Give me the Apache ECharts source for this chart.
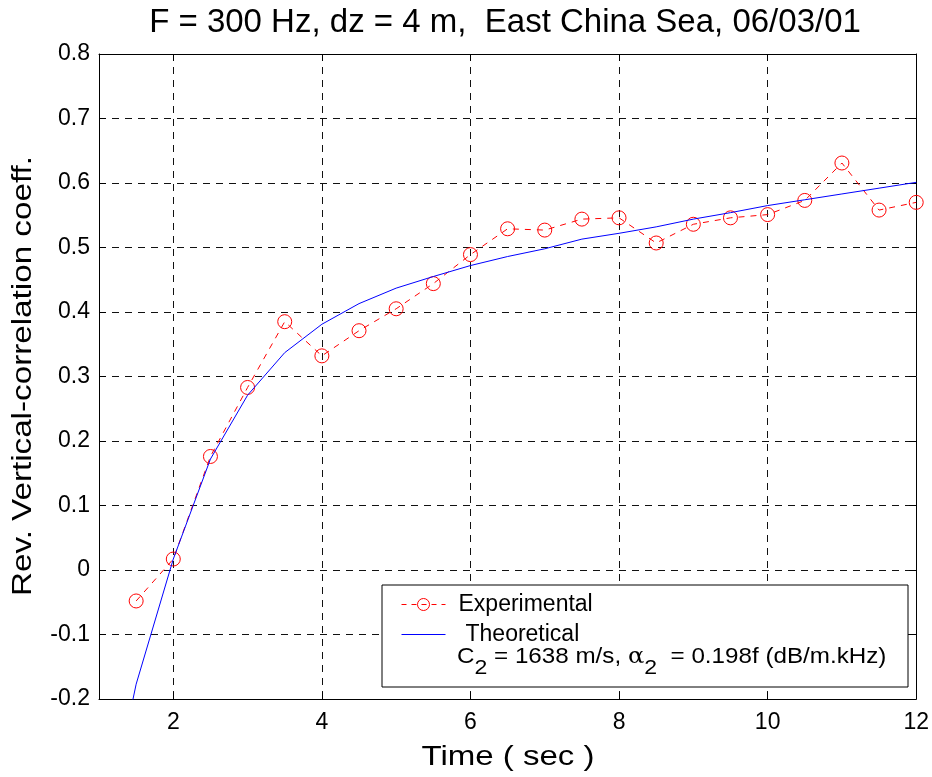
<!DOCTYPE html>
<html>
<head>
<meta charset="utf-8">
<script src="https://cdn.jsdelivr.net/npm/echarts@6/dist/echarts.min.js"></script>
<style>html,body{margin:0;padding:0;background:#fff}#c{width:932px;height:777px}</style>
</head>
<body>
<div id="c"></div>
<script>
const timeExp = [1.5,2,2.5,3,3.5,4,4.5,5,5.5,6,6.5,7,7.5,8,8.5,9,9.5,10,10.5,11,11.5,12];
const experimental = [-0.048,0.017,0.176,0.283,0.385,0.332,0.371,0.405,0.444,0.489,0.529,0.527,0.544,0.546,0.507,0.536,0.546,0.551,0.573,0.631,0.558,0.570];
const timeTheo = [1,1.5,2,2.5,3,3.5,4,4.5,5,5.5,6,6.5,7,7.5,8,8.5,9,9.5,10,10.5,11,11.5,12];
const theoretical = [-0.45,-0.177,0.017,0.172,0.271,0.337,0.381,0.413,0.437,0.455,0.472,0.486,0.498,0.513,0.522,0.532,0.544,0.554,0.565,0.574,0.583,0.592,0.601];
const xTicks = [2,4,6,8,10,12];
const titleText = 'F = 300 Hz, dz = 4 m,  East China Sea, 06/03/01';
const xName = 'Time ( sec )';
const yName = 'Rev. Vertical-correlation coeff.';
const legendNames = ['Experimental', 'Theoretical'];

const FONT = 'Liberation Sans, Arial, Helvetica, sans-serif';
const chart = echarts.init(document.getElementById('c'), null, {renderer: 'canvas'});
const gridLine = {show: true, lineStyle: {color: '#111', width: 1, type: [7, 6]}};
const axisLine = {show: true, onZero: false, lineStyle: {color: '#000', width: 1}};
const xTick = {show: true, inside: true, length: 7, lineStyle: {color: '#000'}, customValues: xTicks};
const yTick = {show: true, inside: true, length: 7, lineStyle: {color: '#000'}};
const yFmt = v => String(Math.round(v * 10) / 10);

chart.setOption({
  animation: false,
  textStyle: {fontFamily: FONT},
  grid: {left: 99, right: 15, top: 54, bottom: 78, containLabel: false},
  xAxis: [
    {type: 'value', min: 1, max: 12, interval: 1, position: 'bottom',
     axisLine, axisTick: xTick, splitLine: gridLine,
     axisLabel: {customValues: xTicks, fontSize: 23, color: '#000', margin: 12, fontFamily: FONT}},
    {type: 'value', min: 1, max: 12, interval: 1, position: 'top',
     axisLine, axisTick: xTick, splitLine: {show: false}, axisLabel: {show: false}}
  ],
  yAxis: [
    {type: 'value', min: -0.2, max: 0.8, interval: 0.1, position: 'left',
     axisLine, axisTick: yTick, splitLine: gridLine,
     axisLabel: {formatter: yFmt, fontSize: 23, color: '#000', margin: 9, fontFamily: FONT}},
    {type: 'value', min: -0.2, max: 0.8, interval: 0.1, position: 'right',
     axisLine, axisTick: yTick, splitLine: {show: false}, axisLabel: {show: false}}
  ],
  legend: {
    orient: 'vertical', left: 396, top: 588, itemWidth: 44, itemHeight: 15, itemGap: 7, z: 10,
    textStyle: {fontSize: 23, lineHeight: 22, color: '#000', fontFamily: FONT, padding: [0, 0, 0, 8]},
    data: [
      {name: legendNames[0],
       itemStyle: {color: 'rgba(255,255,255,0)', borderColor: '#ff0000', borderWidth: 1},
       lineStyle: {color: '#ff0000', width: 1, type: [5, 5]}},
      {name: legendNames[1], textStyle: {padding: [0, 0, 0, 15]},
       itemStyle: {color: 'rgba(255,255,255,0)', borderWidth: 0, opacity: 0},
       lineStyle: {color: '#0000ff', width: 1, type: 'solid'}}
    ]
  },
  graphic: [
    {type: 'rect', z: 5, shape: {x: 382, y: 585, width: 526, height: 102},
     style: {fill: '#fff', stroke: '#000', lineWidth: 1}},
    {type: 'text', z: 11, x: 457, y: 646, scaleX: 1.1,
     style: {
       text: '{a|C}{s|2}{a| = 1638 m/s, }{g|α}{s|2}{a|  = 0.198f (dB/m.kHz)}',
       verticalAlign: 'top',
       rich: {
         a: {fontSize: 22, fontFamily: FONT, fill: '#000', lineHeight: 22, verticalAlign: 'top'},
         g: {fontSize: 22, fontFamily: 'DejaVu Serif, serif', fill: '#000', lineHeight: 22, verticalAlign: 'top'},
         s: {fontSize: 21, fontFamily: FONT, fill: '#000', lineHeight: 22, padding: [12, 0, 0, 0], verticalAlign: 'top'}
       }
     }},
    {type: 'text', z: 11, x: 505, y: 23,
     style: {text: titleText, fontSize: 33, fontFamily: FONT, fill: '#000', align: 'center', verticalAlign: 'middle'}},
    {type: 'text', z: 11, x: 508, y: 757, scaleX: 1.18,
     style: {text: xName, fontSize: 28, fontFamily: FONT, fill: '#000', align: 'center', verticalAlign: 'middle'}},
    {type: 'text', z: 11, x: 24, y: 376, rotation: Math.PI / 2, scaleX: 1.23,
     style: {text: yName, fontSize: 27, fontFamily: FONT, fill: '#000', align: 'center', verticalAlign: 'middle'}}
  ],
  series: [
    {name: legendNames[0], type: 'line', xAxisIndex: 0, yAxisIndex: 0,
     data: timeExp.map((t, i) => [t, experimental[i]]),
     symbol: 'circle', symbolSize: 14, showSymbol: true,
     lineStyle: {color: '#ff0000', width: 1, type: [6, 6]},
     itemStyle: {color: 'rgba(255,255,255,0)', borderColor: '#ff0000', borderWidth: 1},
     clip: true, z: 3},
    {name: legendNames[1], type: 'line', xAxisIndex: 0, yAxisIndex: 0,
     data: timeTheo.map((t, i) => [t, theoretical[i]]),
     symbol: 'none', lineStyle: {color: '#0000ff', width: 1}, itemStyle: {color: '#0000ff'},
     clip: true, z: 4}
  ]
});
</script>
</body>
</html>
